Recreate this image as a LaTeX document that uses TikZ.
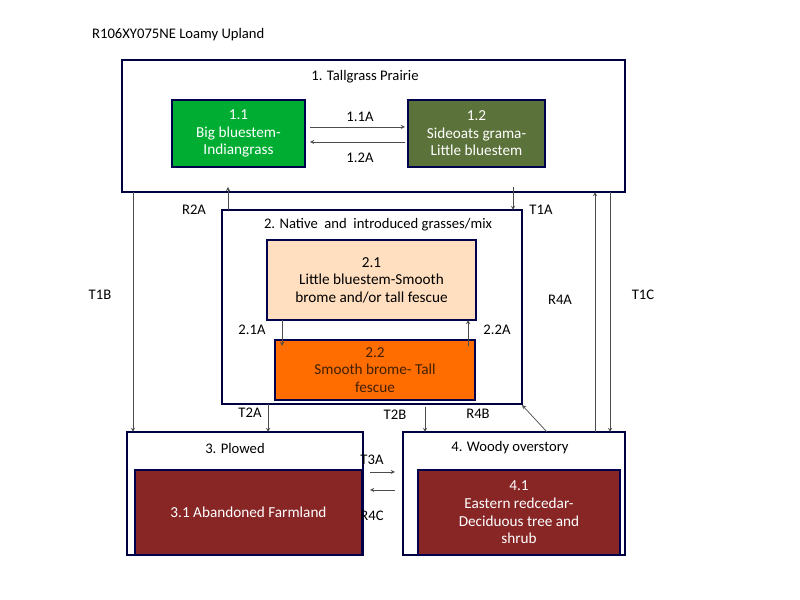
\documentclass[tikz,border=0pt]{standalone}
\usepackage{fontspec}
\setmainfont{Carlito}
\begin{document}
\begin{tikzpicture}[x=0.03cm,y=-0.03cm,
  frame/.style={draw=black!75!blue,line width=1pt},
  st/.style={draw=black!70!blue,line width=1.2pt,text=white,align=center,font=\fontsize{13}{15}\selectfont},
  lbl/.style={font=\fontsize{12.5}{14}\selectfont},
  arr/.style={->,>=stealth,line width=0.6pt,black!70}]
\useasboundingbox (0,0) rectangle (800,600);
\node[lbl,anchor=west] (title) at (88,35) {R106XY075NE Loamy Upland};
% state boxes
\draw[frame] (122,60) rectangle (625,192);
\node[lbl] (l1) at (365,77) {1. Tallgrass Prairie};
\draw[frame] (222,210) rectangle (522,404);
\node[lbl] (l2) at (378,225) {2. Native\ \ and\ \ introduced grasses/mix};
\draw[frame] (127,432) rectangle (363,555);
\node[lbl] (l3) at (235,448) {3. Plowed};
\draw[frame] (403,432) rectangle (625,555);
\node[lbl] (l4) at (510,448) {4. Woody overstory};
% communities
\node[st,fill=green!60!black!80!cyan,minimum width=133*0.03cm,minimum height=67*0.03cm] (c11) at (238.5,133.5) {1.1\\Big bluestem-\\Indiangrass};
\node[st,fill=olive!50!green!60!black,minimum width=137*0.03cm,minimum height=67*0.03cm] (c12) at (476.5,133.5) {1.2\\Sideoats grama-\\Little bluestem};
\node[st,fill=orange!25!white,text=black,minimum width=209*0.03cm,minimum height=80*0.03cm] (c21) at (371.5,280) {2.1\\Little bluestem-Smooth\\brome and/or tall fescue};
\node[st,fill=orange!85!red,text=black!75!orange,minimum width=200*0.03cm,minimum height=60*0.03cm] (c22) at (375,370) {2.2\\Smooth brome- Tall\\fescue};
\node[st,fill=red!45!black!85,minimum width=227*0.03cm,minimum height=85*0.03cm] (c31) at (248.5,512.5) {3.1 Abandoned Farmland};
\node[st,fill=red!45!black!85,minimum width=202*0.03cm,minimum height=85*0.03cm] (c41) at (519,512.5) {4.1\\Eastern redcedar-\\Deciduous tree and\\shrub};
% coordinates
\coordinate (a1) at (310,127); \coordinate (a2) at (405,127);
\coordinate (b1) at (405,142); \coordinate (b2) at (310,142);
\coordinate (t1bs) at (133,192); \coordinate (t1be) at (133,432);
\coordinate (r2as) at (228,210); \coordinate (r2ae) at (228,187);
\coordinate (t1as) at (513,187); \coordinate (t1ae) at (513,210);
\coordinate (r4as) at (595,432); \coordinate (r4ae) at (595,192);
\coordinate (t1cs) at (610,192); \coordinate (t1ce) at (610,432);
\coordinate (s21a) at (282,320); \coordinate (e21a) at (282,346);
\coordinate (s22a) at (468,346); \coordinate (e22a) at (468,320);
\coordinate (t2as) at (268,404); \coordinate (t2ae) at (268,432);
\coordinate (t2bs) at (425,407); \coordinate (t2be) at (425,432);
\coordinate (r4bs) at (547,432); \coordinate (r4be) at (522,405);
\coordinate (t3as) at (370,472); \coordinate (t3ae) at (395,472);
\coordinate (r4cs) at (395,490); \coordinate (r4ce) at (370,490);
\draw[arr] (a1) -- (a2); \draw[arr] (b1) -- (b2);
\draw[arr] (t1bs) -- (t1be); \draw[arr] (r2as) -- (r2ae);
\draw[arr] (t1as) -- (t1ae); \draw[arr] (r4as) -- (r4ae);
\draw[arr] (t1cs) -- (t1ce); \draw[arr] (s21a) -- (e21a);
\draw[arr] (s22a) -- (e22a); \draw[arr] (t2as) -- (t2ae);
\draw[arr] (t2bs) -- (t2be); \draw[arr] (r4bs) -- (r4be);
\draw[arr] (t3as) -- (t3ae); \draw[arr] (r4cs) -- (r4ce);
% labels
\node[lbl] (n1) at (360,117) {1.1A};
\node[lbl] (n2) at (360,158) {1.2A};
\node[lbl] (n3) at (100,295) {T1B};
\node[lbl] (n4) at (194,210) {R2A};
\node[lbl] (n5) at (541,210) {T1A};
\node[lbl] (n6) at (560,300) {R4A};
\node[lbl] (n7) at (643,295) {T1C};
\node[lbl] (n8) at (252,330) {2.1A};
\node[lbl] (n9) at (497,330) {2.2A};
\node[lbl] (n10) at (250,413) {T2A};
\node[lbl] (n11) at (395,415) {T2B};
\node[lbl] (n12) at (478,414) {R4B};
\node[lbl] (n13) at (372,460) {T3A};
\node[lbl] (n14) at (372,516) {R4C};
\end{tikzpicture}
\end{document}
